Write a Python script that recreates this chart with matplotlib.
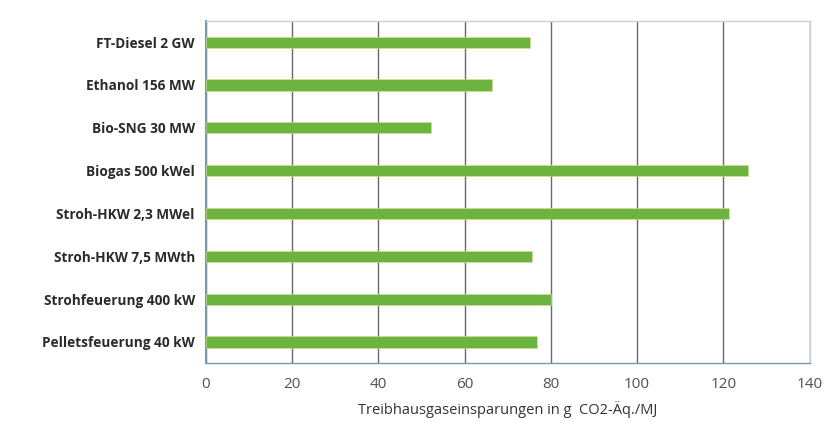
import matplotlib.pyplot as plt

# Data
categories = ["FT-Diesel 2 GW", "Ethanol 156 MW", "Bio-SNG 30 MW", "Biogas 500 kWel",
              "Stroh-HKW 2,3 MWel", "Stroh-HKW 7,5 MWth", "Strohfeuerung 400 kW",
              "Pelletsfeuerung 40 kW"]
savings = [75.1, 66.3, 52.2, 125.6, 121.2, 75.7, 80.1, 76.7]
xticks = [0, 20, 40, 60, 80, 100, 120, 140]

plt.rcParams['font.family'] = ['Open Sans', 'DejaVu Sans']

fig = plt.figure(figsize=(8.27, 4.23), dpi=100)
ax = fig.add_axes([0.249, 0.141, 0.730, 0.810])

# first category at top
y = list(range(len(categories)))[::-1]
ax.barh(y, savings, height=0.26, color='#6db33f', edgecolor='#dfe08a', linewidth=0.4, zorder=3)

ax.set_xlim(0, 140)
ax.set_ylim(-0.5, len(categories) - 0.5)
ax.set_xticks(xticks)
ax.set_xticklabels([str(t) for t in xticks], fontsize=11, color='#505050')
ax.set_yticks(y)
ax.set_yticklabels(categories, fontsize=9.8, fontweight='bold', color='#2a2a2a')
ax.tick_params(axis='both', length=0)
ax.tick_params(axis='x', pad=10)
ax.tick_params(axis='y', pad=8)

ax.grid(axis='x', color='#6a6a6a', linewidth=1.0, zorder=0)
for s in ax.spines.values():
    s.set_color('#c8d0d8')
    s.set_linewidth(1.0)
ax.spines['left'].set_color('#7a9aaa')
ax.spines['left'].set_linewidth(1.5)
ax.spines['bottom'].set_color('#7a9aaa')

ax.set_xlabel("Treibhausgaseinsparungen in g  CO2-Äq./MJ", fontsize=10.5, color='#333333', labelpad=6)

fig.savefig("out.png", dpi=100)
